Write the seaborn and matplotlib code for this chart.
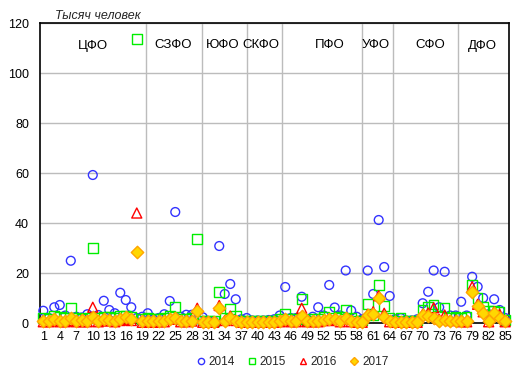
import numpy as np
import pandas as pd
import matplotlib
matplotlib.use("Agg")
import matplotlib.pyplot as plt
from matplotlib.lines import Line2D
import seaborn as sns

regions = list(range(1, 86))
xticks = list(range(1, 86, 3))
yticks = [0, 20, 40, 60, 80, 100, 120]

v2014 = [4.9, 2.0, 6.3, 7.2, 3.0, 24.9, 2.5, 2.2, 3.5, 59.2,
         3.2, 8.9, 5.2, 3.9, 12.1, 9.2, 6.3, 2.0, 2.5, 3.9,
         1.5, 2.0, 3.5, 8.8, 44.4, 2.5, 3.3, 3.3, 1.5, 2.3,
         0.8, 0.8, 30.8, 11.6, 15.6, 9.5, 1.5, 2.0, 1.0, 1.0,
         1.0, 1.2, 1.5, 3.0, 14.4, 2.0, 2.0, 10.5, 1.5, 2.5,
         6.3, 3.0, 15.2, 6.2, 3.0, 21.0, 5.0, 2.5, 1.5, 21.0,
         11.6, 41.2, 22.4, 10.8, 1.5, 2.0, 1.0, 1.0, 1.5, 7.9,
         12.5, 21.0, 6.3, 20.5, 3.0, 3.0, 8.5, 3.0, 18.5, 14.5,
         10.0, 3.5, 9.5, 5.2, 2.0]
v2015 = [2.0, 1.5, 3.0, 2.5, 2.0, 5.9, 2.0, 1.5, 2.0, 30.0,
         2.0, 2.5, 2.5, 2.0, 3.0, 3.0, 2.5, 113.5, 1.5, 2.0,
         1.5, 1.5, 2.0, 2.8, 6.5, 1.5, 1.5, 2.0, 33.6, 1.0,
         0.8, 0.8, 12.5, 2.1, 5.6, 2.8, 1.0, 1.0, 0.8, 0.8,
         0.8, 0.8, 1.0, 1.5, 3.6, 1.5, 1.5, 9.5, 1.0, 1.5,
         1.5, 2.5, 4.5, 2.0, 2.5, 5.4, 2.0, 1.0, 1.0, 7.6,
         3.0, 15.2, 6.9, 2.0, 1.0, 2.0, 1.0, 1.0, 1.0, 5.2,
         6.3, 7.4, 3.0, 6.2, 2.0, 2.5, 2.0, 2.5, 15.3, 9.9,
         6.5, 5.0, 4.8, 4.3, 1.3]
v2016 = [0.5, 0.5, 1.0, 0.5, 0.5, 1.0, 0.5, 0.5, 0.5, 6.3,
         0.5, 1.0, 0.8, 0.5, 1.0, 1.5, 1.0, 44.0, 0.3, 0.5,
         0.3, 0.5, 0.5, 1.5, 2.0, 0.5, 0.5, 0.8, 5.9, 0.3,
         0.3, 0.3, 7.0, 1.0, 2.8, 1.0, 0.3, 0.3, 0.3, 0.3,
         0.3, 0.3, 0.3, 0.5, 1.0, 0.5, 0.5, 5.9, 0.5, 0.5,
         0.5, 1.0, 1.0, 1.5, 0.5, 1.5, 0.5, 0.3, 0.3, 3.5,
         4.5, 10.9, 3.9, 0.5, 0.3, 0.3, 0.3, 0.3, 0.3, 3.5,
         4.0, 6.1, 1.5, 3.2, 1.0, 1.0, 0.5, 0.5, 14.5, 7.5,
         4.5, 0.5, 4.5, 3.5, 0.5]
v2017 = [0.8, 1.0, 1.8, 1.0, 1.0, 2.0, 1.0, 1.2, 1.0, 2.6,
         1.0, 1.5, 1.2, 1.0, 1.5, 2.5, 1.8, 28.3, 0.8, 0.8,
         0.8, 0.8, 1.0, 1.5, 2.2, 0.8, 1.0, 1.0, 4.8, 0.6,
         0.6, 0.6, 6.1, 0.8, 2.0, 1.0, 0.6, 0.5, 0.5, 0.5,
         0.5, 0.5, 0.5, 0.8, 1.5, 0.8, 0.8, 2.8, 0.8, 1.0,
         0.8, 1.2, 1.5, 1.8, 0.8, 2.2, 0.8, 0.5, 0.5, 3.3,
         3.6, 9.9, 2.5, 1.0, 0.5, 0.5, 0.5, 0.5, 0.5, 3.2,
         2.8, 2.0, 1.0, 1.2, 1.0, 1.0, 1.0, 0.8, 12.5, 6.8,
         3.9, 1.0, 4.0, 2.2, 1.0]

districts = ["ЦФО", "СЗФО", "ЮФО", "СКФО", "ПФО", "УФО", "СФО", "ДФО"]
district_x = [10.0, 24.6, 33.7, 40.6, 53.1, 61.5, 71.3, 80.8]
district_y = 111
boundaries = [19.7, 29.95, 38.1, 44.5, 59.0, 64.6, 76.5]

sns.set_style("white")
plt.rcParams['font.family'] = ['Liberation Sans', 'DejaVu Sans']

fig = plt.figure(figsize=(5.21, 3.77), dpi=100)
ax = fig.add_axes([40/521, 54/377, 469/521, 300/377])

for y in yticks[1:]:
    ax.axhline(y, color='#bcbcbc', lw=1.0, zorder=0)
for b in boundaries:
    ax.axvline(b, color='#bcbcbc', lw=1.0, zorder=0)

series = [
    ("2014", v2014, 'o', 40, 'none', '#3333ff'),
    ("2015", v2015, 's', 48, 'none', '#00ee00'),
    ("2016", v2016, '^', 52, 'none', '#ff0000'),
    ("2017", v2017, 'D', 40, '#ffd700', '#ffa500'),
]
handles = []
for name, vals, mk, s, fc, ec in series:
    df = pd.DataFrame({"region": regions, "value": vals})
    sns.scatterplot(data=df, x="region", y="value", ax=ax, marker=mk, s=s,
                    linewidth=1.0, legend=False, zorder=3)
    coll = ax.collections[-1]
    coll.set_facecolor(fc)
    coll.set_edgecolor(ec)
    coll.set_clip_on(False)
    handles.append(Line2D([], [], marker=mk, ls='', markersize=4.5 if mk != 'D' else 4,
                          markerfacecolor=fc, markeredgecolor=ec, markeredgewidth=1.0,
                          label=name))

ax.set_xlim(0.4, 85.7)
ax.set_ylim(0, 120)
ax.set_xticks(xticks)
ax.set_yticks(yticks)
ax.set_xlabel("")
ax.set_ylabel("")
ax.tick_params(axis='both', length=0, labelsize=9, colors='black')
ax.tick_params(axis='x', pad=6)
ax.tick_params(axis='y', pad=8)
for sp in ax.spines.values():
    sp.set_visible(True)
    sp.set_color('black')
    sp.set_linewidth(1.2)

for name, x in zip(districts, district_x):
    ax.text(x, district_y, name, ha='center', va='center', fontsize=9.5, color='black')

ax.text(0.032, 1.023, "Тысяч человек", transform=ax.transAxes, fontsize=9,
        style='italic', ha='left', va='center')

fig.legend(handles=handles, loc='center', bbox_to_anchor=(292/521, 15/377), ncol=4,
           frameon=False, fontsize=8.5, handletextpad=0.2, columnspacing=1.0,
           handlelength=0.9)

fig.savefig("out.png", dpi=100)
